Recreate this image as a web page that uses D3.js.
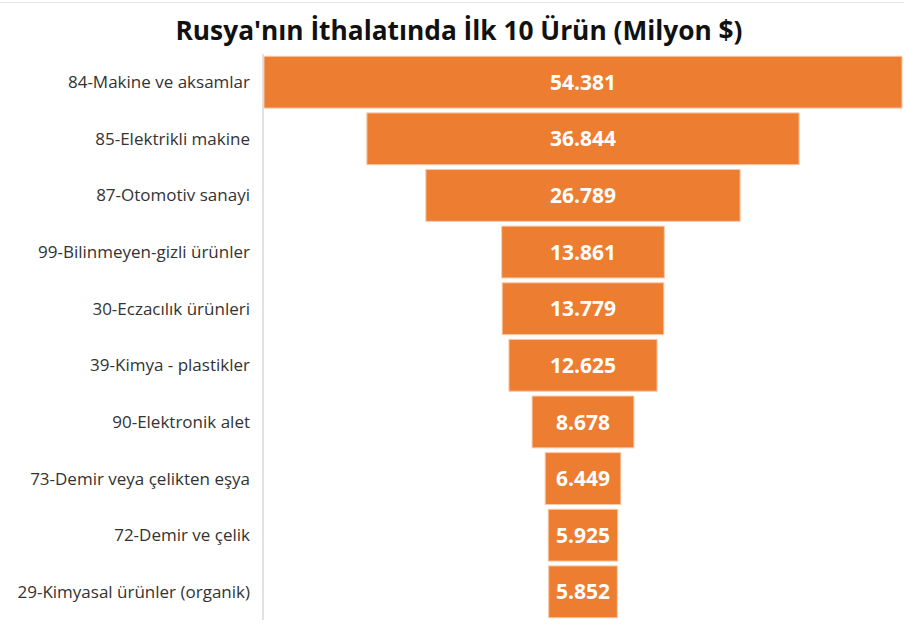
<!DOCTYPE html>
<html><head><meta charset="utf-8">
<script src="https://cdn.jsdelivr.net/npm/d3@7"></script>
<style>body{margin:0;background:#fff;} svg{display:block;}</style>
</head><body>
<svg id="c" width="904" height="629"></svg>
<script>
const categories = ["84-Makine ve aksamlar","85-Elektrikli makine","87-Otomotiv sanayi","99-Bilinmeyen-gizli ürünler","30-Eczacılık ürünleri","39-Kimya - plastikler","90-Elektronik alet","73-Demir veya çelikten eşya","72-Demir ve çelik","29-Kimyasal ürünler (organik)"];
const values = [54381,36844,26789,13861,13779,12625,8678,6449,5925,5852];
const labels = ["54.381","36.844","26.789","13.861","13.779","12.625","8.678","6.449","5.925","5.852"];
const title = "Rusya'nın İthalatında İlk 10 Ürün (Milyon $)";

(function(){
const svg = d3.select("#c");
const pl = 264, pr = 902, pt = 54, pb = 620;
const cx = (pl + pr) / 2;
const w = d3.scaleLinear().domain([0, d3.max(values)]).range([0, pr - pl]);
const y = d3.scaleBand().domain(categories).range([pt, pb]).paddingInner(0.085).paddingOuter(0.04);

svg.append("line").attr("x1",0).attr("x2",904).attr("y1",2.5).attr("y2",2.5).attr("stroke","#e6e6e6").attr("stroke-width",1);

svg.append("text").attr("x",459).attr("y",40).attr("text-anchor","middle")
  .attr("font-family","Open Sans, sans-serif").attr("font-weight","bold").attr("font-size",26).attr("fill","#111")
  .attr("textLength",567).attr("lengthAdjust","spacingAndGlyphs")
  .text(title);

svg.append("line").attr("x1",263).attr("x2",263).attr("y1",pt).attr("y2",pb).attr("stroke","#d9d9d9").attr("stroke-width",1.5);

const g = svg.append("g");
g.selectAll("rect").data(values).join("rect")
  .attr("x",(d)=>cx - w(d)/2).attr("width",d=>w(d))
  .attr("y",(d,i)=>y(categories[i])).attr("height",y.bandwidth())
  .attr("fill","#ED7D31").attr("stroke","#f8c9a8").attr("stroke-width",1);

g.selectAll("text.v").data(labels).join("text").attr("class","v")
  .attr("x",cx).attr("y",(d,i)=>y(categories[i])+y.bandwidth()/2).attr("dy","0.36em")
  .attr("text-anchor","middle").attr("font-family","Open Sans, sans-serif").attr("font-weight","bold").attr("font-size",21).attr("fill","#fff")
  .text(d=>d);

svg.append("g").selectAll("text").data(categories).join("text")
  .attr("x",250).attr("y",d=>y(d)+y.bandwidth()/2).attr("dy","0.35em").attr("text-anchor","end")
  .attr("font-family","Open Sans, sans-serif").attr("font-size",17).attr("fill","#333")
  .text(d=>d);
})();
</script>
</body></html>
